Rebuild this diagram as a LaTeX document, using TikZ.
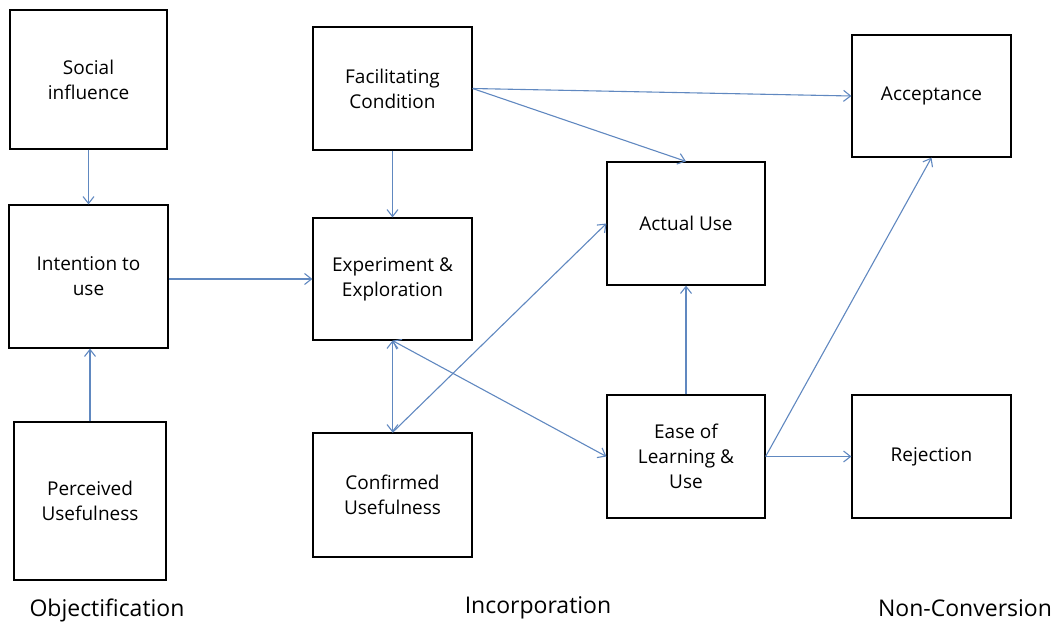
\documentclass[tikz,border=0pt]{standalone}
\usepackage{fontspec}
\setmainfont{Open Sans}
\usetikzlibrary{arrows.meta}

\definecolor{linkblue}{RGB}{96,136,192}
\tikzset{every picture/.style={line width=1.1pt}}
\tikzset{
  stage/.style={draw=black,line width=1.2pt,align=center,inner sep=2pt,font=\fontsize{19}{25}\selectfont},
  link/.style={draw=linkblue,line width=1.1pt,-{Straight Barb[length=7pt,width=11pt,line width=1.1pt]}},
  twoway/.style={link,{Straight Barb[length=7pt,width=11pt,line width=1.1pt]}-{Straight Barb[length=7pt,width=11pt,line width=1.1pt]}},
  phase/.style={font=\fontsize{23}{27}\selectfont}
}

\begin{document}
\begin{tikzpicture}[x=1pt,y=1pt,yscale=-1,xscale=1]
\useasboundingbox (0,0) rectangle (1059,632);

% Objectification column
\node [stage,minimum width=157pt,minimum height=139pt] (social) at (88.5,79.5) {Social\\influence};
\node [stage,minimum width=159pt,minimum height=143pt] (intention) at (88.5,276.5) {Intention to\\use};
\node [stage,minimum width=152pt,minimum height=158pt] (perceived) at (90,501) {Perceived\\Usefulness};

% Incorporation column
\node [stage,minimum width=159pt,minimum height=123pt] (facil) at (392.5,88.5) {Facilitating\\Condition};
\node [stage,minimum width=159pt,minimum height=122pt] (explore) at (392.5,279) {Experiment \&\\Exploration};
\node [stage,minimum width=159pt,minimum height=124pt] (confirmed) at (392.5,495) {Confirmed\\Usefulness};
\node [stage,minimum width=158pt,minimum height=123pt] (actual) at (686,223.5) {Actual Use};
\node [stage,minimum width=158pt,minimum height=123pt] (ease) at (686,456.5) {Ease of\\Learning \&\\Use};

% Non-Conversion column
\node [stage,minimum width=159pt,minimum height=122pt] (accept) at (931.5,96) {Acceptance};
\node [stage,minimum width=159pt,minimum height=123pt] (reject) at (931.5,456.5) {Rejection};

% phase labels
\node [phase] (objlabel) at (107,610) {Objectification};
\node [phase] (inclabel) at (538,608) {Incorporation};
\node [phase] (nonlabel) at (965,608) {Non-Conversion};

% connectors
\draw [link] (social.south) -- (intention.north);
\draw [link] (perceived.north) -- (perceived.north |- intention.south);
\draw [link] (intention.east |- explore.west) -- (explore.west);
\draw [link] (facil.south) -- (explore.north);
\draw [link] (facil.east) -- (accept.west);
\draw [link] (facil.east) -- (actual.north);
\draw [twoway] (explore.south) -- (confirmed.north);
\draw [twoway] (explore.south) -- (ease.west);
\draw [link] (confirmed.north) -- (actual.west);
\draw [link] (ease.north) -- (actual.south);
\draw [link] (ease.east) -- (accept.south);
\draw [link] (ease.east) -- (reject.west);

\end{tikzpicture}
\end{document}
